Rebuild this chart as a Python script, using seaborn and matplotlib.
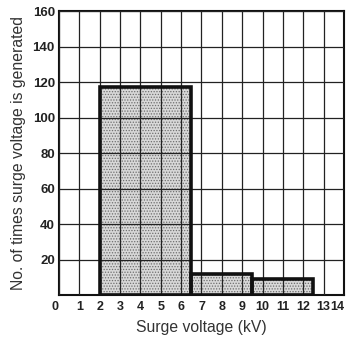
import matplotlib
matplotlib.use("Agg")
import matplotlib.pyplot as plt
import seaborn as sns

# Data
bin_edges = [2, 6.5, 9.5, 12.5]
bin_centers = [4.25, 8.0, 11.0]
counts = [117, 12, 9]
x_ticks = list(range(0, 15))
y_ticks = list(range(0, 161, 20))

sns.set_style("white")
plt.rcParams["font.family"] = ["Liberation Sans", "DejaVu Sans"]
plt.rcParams["hatch.color"] = "#6e6e6e"
plt.rcParams["hatch.linewidth"] = 0.6

fig = plt.figure(figsize=(3.48, 3.37), dpi=100)
ax = fig.add_axes([0.1695, 0.1246, 0.8190, 0.8424])

# Filled bars (stippled)
sns.histplot(x=bin_centers, weights=counts, bins=bin_edges, ax=ax,
             color="#d8d8d8", alpha=1, edgecolor="#6e6e6e", linewidth=0)
for p in ax.patches:
    p.set_hatch("......")
    p.set_zorder(1)

# Grid drawn above the fill
ax.set_axisbelow(False)
ax.grid(True, color="#222222", linewidth=0.9)

# Thick outline on top
sns.histplot(x=bin_centers, weights=counts, bins=bin_edges, ax=ax,
             fill=False, color="#111111", linewidth=2.6, zorder=3)

ax.set_xlim(0, 14)
ax.set_ylim(0, 160)
ax.set_xticks(x_ticks)
ax.set_yticks(y_ticks)
ax.set_xticklabels([str(t) for t in x_ticks], fontsize=9, fontweight="bold")
ax.set_yticklabels([""] + [str(t) for t in y_ticks[1:]], fontsize=9.5, fontweight="bold")
xlabels = ax.get_xticklabels()
xlabels[0].set_horizontalalignment("right")
xlabels[-1].set_horizontalalignment("right")
ax.tick_params(axis="both", length=0, colors="#222222")
ax.tick_params(axis="x", pad=4)
ax.tick_params(axis="y", pad=3)

for s in ax.spines.values():
    s.set_color("#111111")
    s.set_linewidth(1.5)
    s.set_visible(True)

ax.set_xlabel("Surge voltage (kV)", fontsize=11.3, labelpad=5, color="#333333")
ax.set_ylabel("No. of times surge voltage is generated", fontsize=11.3, labelpad=5,
              color="#333333")

fig.savefig("out.png", dpi=100)
